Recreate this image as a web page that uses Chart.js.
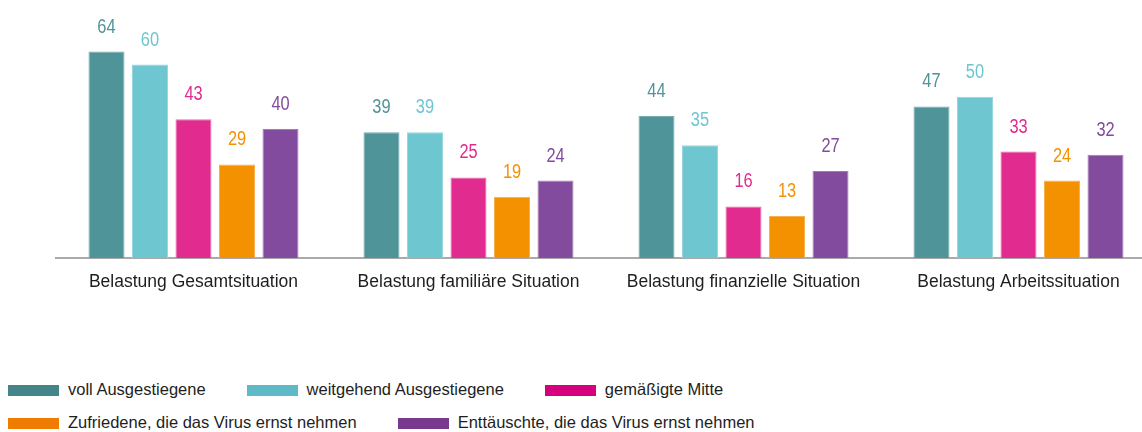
<!DOCTYPE html>
<html>
<head>
<meta charset="utf-8">
<script src="https://cdn.jsdelivr.net/npm/chart.js@4/dist/chart.umd.min.js"></script>
<style>
  body { margin: 0; background: #fff; overflow: hidden; width: 1142px; height: 432px; position: relative; }
  #wrap { position: absolute; left: 0; top: 0; width: 1156px; height: 313px; }
  #legend { position: absolute; left: 8px; top: 378px; font-family: "Liberation Sans", Arial, sans-serif;
            font-size: 16.5px; color: #1e1e1e; }
  .row { display: flex; column-gap: 41px; height: 22px; margin-bottom: 11px; }
  .item { display: flex; align-items: center; white-space: nowrap; }
  .box { width: 51px; height: 11px; margin-right: 9px; margin-top: 3px; }
</style>
</head>
<body>
<div id="wrap"><canvas id="myChart" width="1156" height="313"></canvas></div>
<div id="legend"></div>
<script>
var categories = ['Belastung Gesamtsituation', 'Belastung familiäre Situation', 'Belastung finanzielle Situation', 'Belastung Arbeitssituation'];
var seriesNames = ['voll Ausgestiegene', 'weitgehend Ausgestiegene', 'gemäßigte Mitte', 'Zufriedene, die das Virus ernst nehmen', 'Enttäuschte, die das Virus ernst nehmen'];
var vollAusgestiegene = [64, 39, 44, 47];
var weitgehendAusgestiegene = [60, 39, 35, 50];
var gemaessigteMitte = [43, 25, 16, 33];
var zufriedene = [29, 19, 13, 24];
var enttaeuschte = [40, 24, 27, 32];

var barColors = ['#4f9499', '#6ec6d1', '#e12b8e', '#f39100', '#834b9d'];
var edgeColors = ['#79adb1', '#97d6de', '#ea6aae', '#f7b04f', '#a27bb5'];
var legendColors = ['#44858a', '#5fbac7', '#d6007e', '#ef7c00', '#773a8e'];

var seriesValues = [vollAusgestiegene, weitgehendAusgestiegene, gemaessigteMitte, zufriedene, enttaeuschte];
var FONT = '"Liberation Sans", Arial, sans-serif';

// numbers above the bars, squeezed a bit to look like the condensed original
var valueLabels = {
  id: 'valueLabels',
  afterDatasetsDraw: function(chart) {
    var ctx = chart.ctx;
    ctx.save();
    ctx.font = '20px ' + FONT;
    ctx.textAlign = 'center';
    ctx.textBaseline = 'alphabetic';
    chart.data.datasets.forEach(function(ds, i) {
      ctx.fillStyle = barColors[i];
      chart.getDatasetMeta(i).data.forEach(function(bar, j) {
        ctx.save();
        ctx.translate(bar.x, bar.y - 19);
        ctx.scale(0.82, 1);
        ctx.fillText(ds.data[j], 0, 0);
        ctx.restore();
      });
    });
    ctx.restore();
  }
};

var ctx = document.getElementById('myChart').getContext('2d');
var myChart = new Chart(ctx, {
  type: 'bar',
  data: {
    labels: categories,
    datasets: seriesNames.map(function(name, i) {
      return {
        label: name,
        data: seriesValues[i],
        backgroundColor: barColors[i],
        borderColor: edgeColors[i],
        borderWidth: 1,
        categoryPercentage: 0.791,
        barPercentage: 0.828
      };
    })
  },
  options: {
    responsive: false,
    animation: false,
    layout: { padding: { left: 56, right: 0, top: 0, bottom: 6 } },
    plugins: { legend: { display: false }, tooltip: { enabled: false } },
    scales: {
      x: {
        grid: { display: false, drawTicks: false },
        border: { display: true, color: '#aaaaaa', width: 2 },
        ticks: { color: '#1e1e1e', padding: 14, maxRotation: 0, autoSkip: false, font: { family: FONT, size: 17.5 } }
      },
      y: { display: false, min: 0, max: 80 }
    }
  },
  plugins: [valueLabels]
});

// legend in two rows like the original
var legend = document.getElementById('legend');
var rows = [[0, 1, 2], [3, 4]];
rows.forEach(function(idx) {
  var row = document.createElement('div');
  row.className = 'row';
  idx.forEach(function(i) {
    var item = document.createElement('div');
    item.className = 'item';
    var box = document.createElement('span');
    box.className = 'box';
    box.style.background = legendColors[i];
    item.appendChild(box);
    item.appendChild(document.createTextNode(seriesNames[i]));
    row.appendChild(item);
  });
  legend.appendChild(row);
});
</script>
</body>
</html>
